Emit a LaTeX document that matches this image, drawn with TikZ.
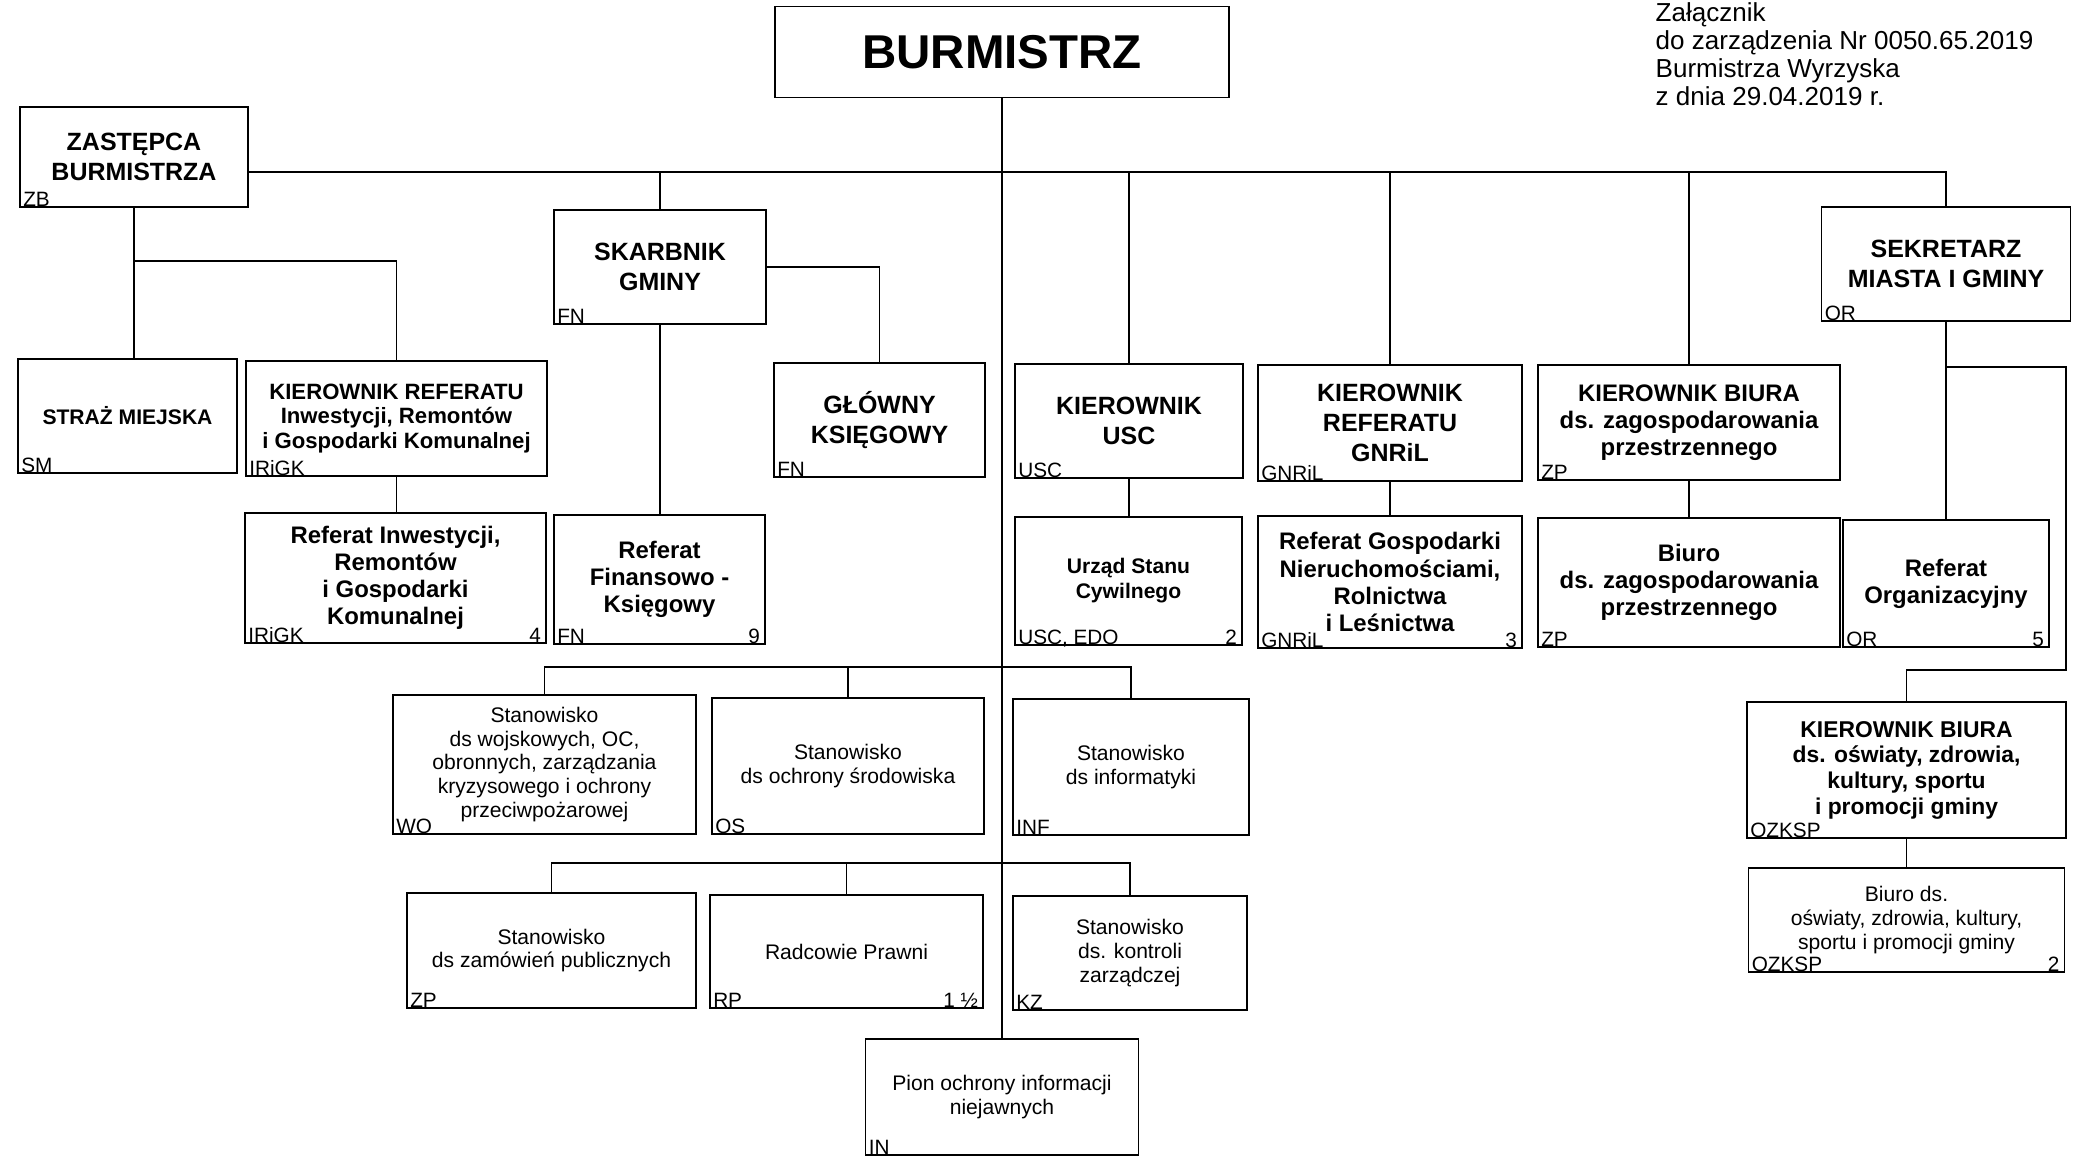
\documentclass[tikz,border=0pt]{standalone}
\usepackage{fontspec}
\setmainfont{Liberation Sans}
\usetikzlibrary{positioning}
\tikzstyle{box} = [rectangle, draw=black, line width=0.5pt, inner sep=0pt, align=center]
\tikzstyle{boss} = [box, font=\bfseries\fontsize{7.1}{8.5}\selectfont]
\tikzstyle{unit} = [box, font=\bfseries\fontsize{6.8}{7.7}\selectfont]
\tikzstyle{post} = [box, font=\fontsize{6}{6.7}\selectfont]
\tikzstyle{code} = [inner sep=0pt, font=\fontsize{5.9}{6.5}\selectfont]
\tikzstyle{link} = [line width=0.5pt]

\begin{document}
\begin{tikzpicture}[x=0.01cm, y=-0.01cm]
\useasboundingbox (0,0) rectangle (2078,1160);

% Note
\node[anchor=north west, inner sep=0pt, align=left, font=\fontsize{7.4}{8}\selectfont] (note) at (1655,2) {Załącznik\\do zarządzenia Nr 0050.65.2019\\Burmistrza Wyrzyska\\z dnia 29.04.2019 r.};

% Top level
\node[box, minimum width=4.54cm, minimum height=0.91cm, font=\bfseries\fontsize{13.5}{16}\selectfont] (burm) at (1002,52) {BURMISTRZ};
\node[boss, minimum width=2.28cm, minimum height=1cm] (zb) at (134,157) {ZASTĘPCA\\BURMISTRZA};
\node[boss, minimum width=2.12cm, minimum height=1.14cm] (skarb) at (660,267) {SKARBNIK\\GMINY};
\node[boss, minimum width=2.49cm, minimum height=1.14cm] (sekr) at (1946,264) {SEKRETARZ\\MIASTA I GMINY};

% Heads
\node[box, font=\bfseries\fontsize{6}{6.8}\selectfont, minimum width=2.19cm, minimum height=1.14cm] (sm) at (127.5,416) {STRAŻ MIEJSKA};
\node[box, font=\bfseries\fontsize{6.3}{6.9}\selectfont, minimum width=3.01cm, minimum height=1.15cm] (irkier) at (396.5,418.5) {KIEROWNIK REFERATU\\Inwestycji, Remontów\\i Gospodarki Komunalnej};
\node[boss, minimum width=2.11cm, minimum height=1.14cm] (glow) at (879.5,420) {GŁÓWNY\\KSIĘGOWY};
\node[boss, minimum width=2.28cm, minimum height=1.14cm] (usckier) at (1129,421) {KIEROWNIK\\USC};
\node[boss, minimum width=2.64cm, minimum height=1.16cm] (gnkier) at (1390,423) {KIEROWNIK\\REFERATU\\GNRiL};
\node[unit, minimum width=3.02cm, minimum height=1.15cm] (zpkier) at (1689,422.5) {KIEROWNIK BIURA\\ds. zagospodarowania\\przestrzennego};

% Departments
\node[unit, minimum width=3.01cm, minimum height=1.3cm] (irref) at (395.5,578) {Referat Inwestycji,\\Remontów\\i Gospodarki\\Komunalnej};
\node[unit, minimum width=2.11cm, minimum height=1.29cm] (fin) at (659.5,579.5) {Referat\\Finansowo -\\Księgowy};
\node[box, font=\bfseries\fontsize{6}{7.1}\selectfont, minimum width=2.27cm, minimum height=1.28cm] (usc) at (1128.5,581) {Urząd Stanu\\Cywilnego};
\node[unit, minimum width=2.64cm, minimum height=1.32cm] (gnref) at (1390,582) {Referat Gospodarki\\Nieruchomościami,\\Rolnictwa\\i Leśnictwa};
\node[unit, minimum width=3.02cm, minimum height=1.29cm] (zpbiuro) at (1689,582.5) {Biuro\\ds. zagospodarowania\\przestrzennego};
\node[unit, minimum width=2.06cm, minimum height=1.27cm] (orref) at (1946,583.5) {Referat\\Organizacyjny};
\node[box, font=\bfseries\fontsize{6.5}{7.3}\selectfont, minimum width=3.19cm, minimum height=1.36cm] (ozkier) at (1906.5,770) {KIEROWNIK BIURA\\ds. oświaty, zdrowia,\\kultury, sportu\\i promocji gminy};
\node[post, minimum width=3.16cm, minimum height=1.04cm] (ozbiuro) at (1906.5,920) {Biuro ds.\\oświaty, zdrowia, kultury,\\sportu i promocji gminy};

% Posts
\node[post, minimum width=3.03cm, minimum height=1.39cm] (wo) at (544.5,764.5) {Stanowisko\\ds wojskowych, OC,\\obronnych, zarządzania\\kryzysowego i ochrony\\przeciwpożarowej};
\node[post, minimum width=2.72cm, minimum height=1.36cm] (os) at (848,766) {Stanowisko\\ds ochrony środowiska};
\node[post, minimum width=2.36cm, minimum height=1.36cm] (inf) at (1131,767) {Stanowisko\\ds informatyki};
\node[post, minimum width=2.89cm, minimum height=1.15cm] (zps) at (551.5,950.5) {Stanowisko\\ds zamówień publicznych};
\node[post, minimum width=2.73cm, minimum height=1.13cm] (rp) at (846.5,951.5) {Radcowie Prawni};
\node[post, minimum width=2.34cm, minimum height=1.14cm] (kz) at (1130,953) {Stanowisko\\ds. kontroli\\zarządczej};
\node[post, minimum width=2.73cm, minimum height=1.16cm] (in) at (1002,1097) {Pion ochrony informacji\\niejawnych};

% Codes and numbers
\foreach \n/\c in {zb/ZB, skarb/FN, sekr/OR, sm/SM, irkier/IRiGK, glow/FN, usckier/USC, gnkier/GNRiL, zpkier/ZP, irref/IRiGK, fin/FN, usc/{USC, EDO}, gnref/GNRiL, zpbiuro/ZP, orref/OR, ozkier/OZKSP, ozbiuro/OZKSP, wo/WO, os/OS, inf/INF, zps/ZP, rp/RP, kz/KZ, in/IN}
  \node[code, anchor=base west] (\n-code) at ([xshift=1pt, yshift=0.4pt]\n.south west) {\c};
\foreach \n/\c in {irref/4, fin/9, usc/2, gnref/3, orref/5, ozbiuro/2, rp/{1 ½}}
  \node[code, anchor=base east] (\n-num) at ([xshift=-1.5pt, yshift=0.4pt]\n.south east) {\c};

% Links
\coordinate (bus) at (1002,172);
\draw[link] (zb.east |- bus) -- (sekr.north |- bus) -- (sekr.north);
\draw[link] (burm.south) -- (in.north);
\foreach \n in {skarb, usckier, gnkier, zpkier}
  \draw[link] (\n.north) -- (\n.north |- bus);

\coordinate (zbfork) at (134,261);
\draw[link] (zb.south) -- (zb.south |- sm.north);
\draw[link] (zbfork) -| (irkier.north);
\draw[link] (skarb.east) -| (glow.north);
\draw[link] (skarb.south) -- (skarb.south |- fin.north);

\foreach \a/\b in {irkier/irref, usckier/usc, gnkier/gnref, zpkier/zpbiuro, sekr/orref, ozkier/ozbiuro}
  \draw[link] (\a.south) -- (\a.south |- \b.north);

\coordinate (orfork) at (1946,367);
\coordinate (ozfork) at (2066,670);
\draw[link] (orfork) -| (ozfork) -| (ozkier.north);

\coordinate (row1) at (1002,667);
\coordinate (row2) at (1002,863);
\draw[link] (wo.north) |- (row1) -| (inf.north);
\draw[link] (os.north) -- (os.north |- row1);
\draw[link] (zps.north) |- (row2) -| (kz.north);
\draw[link] (rp.north) -- (rp.north |- row2);

\end{tikzpicture}
\end{document}
